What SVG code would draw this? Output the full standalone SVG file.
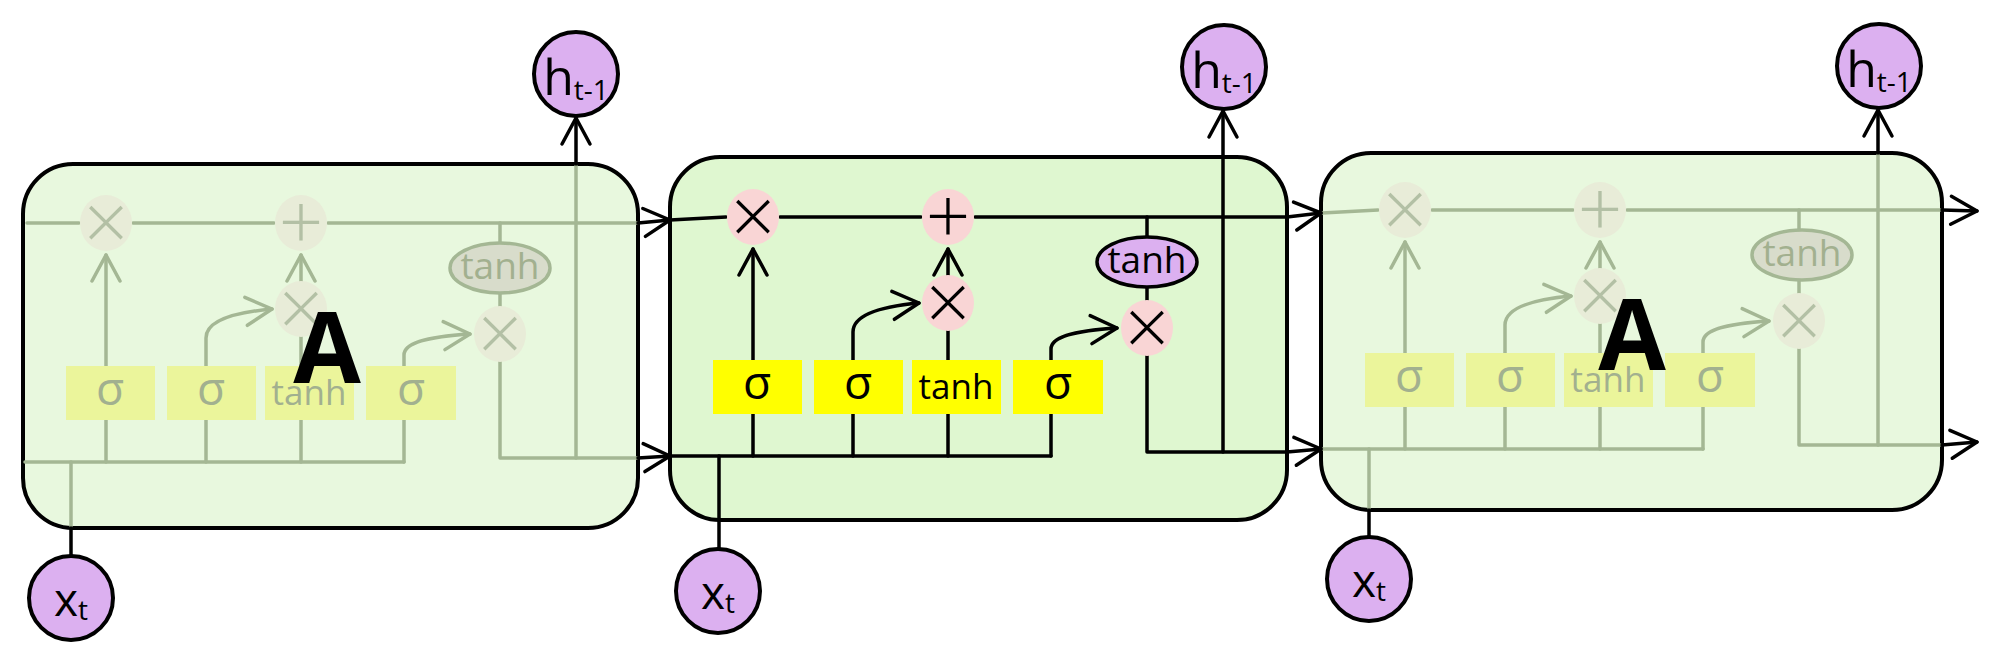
<svg xmlns="http://www.w3.org/2000/svg" width="2000" height="656" viewBox="0 0 2000 656">
<defs>
<style>
.box{stroke:#000;stroke-width:4}
.bon{fill:#dff7d0}
.boff{fill:#e8f8de}
.ln{fill:none;stroke:#000;stroke-width:3.5;stroke-linecap:round;stroke-linejoin:round}
.off .ln{stroke:#a4b794}
.op{fill:#f9d5d5}
.off .op{fill:#e8ecd8}
.opt{font-family:"Open Sans","DejaVu Sans",sans-serif;font-weight:300;font-size:78px;fill:#000;text-anchor:middle}
.off .opt{fill:#b3c0a5}
.gate{fill:#ffff00}
.off .gate{fill:#ebf59b}
.gt{font-family:"Open Sans","DejaVu Sans",sans-serif;fill:#000;text-anchor:middle}
.off .gt{fill:#a2b08f}
.th{fill:#dcb0f0;stroke:#000;stroke-width:3.5}
.off .th{fill:#d8dccb;stroke:#a4b794}
.io{fill:#dcb0f0;stroke:#000;stroke-width:4}
.iot{font-family:"Open Sans","DejaVu Sans",sans-serif;fill:#000;text-anchor:middle}
.big{font-family:"Open Sans","Liberation Sans",sans-serif;font-weight:700;font-size:98px;fill:#000;text-anchor:middle}
</style>
<marker id="ab" markerUnits="userSpaceOnUse" viewBox="0 0 32 34" markerWidth="32" markerHeight="34" refX="29" refY="17" orient="auto"><path d="M3,3 L29,17 L3,31" fill="none" stroke="#000" stroke-width="3.5" stroke-linecap="round" stroke-linejoin="round"/></marker>
<marker id="af" markerUnits="userSpaceOnUse" viewBox="0 0 32 34" markerWidth="32" markerHeight="34" refX="29" refY="17" orient="auto"><path d="M3,3 L29,17 L3,31" fill="none" stroke="#a4b794" stroke-width="3.5" stroke-linecap="round" stroke-linejoin="round"/></marker>
</defs>

<!-- cell boxes -->
<g id="cell1"><rect class="box boff" x="23" y="164" width="615" height="364" rx="50" ry="50"/></g>
<g id="cell2"><rect class="box bon" x="670" y="157" width="617" height="363" rx="50" ry="50"/></g>
<g id="cell3"><rect class="box boff" x="1321" y="153" width="621" height="357" rx="50" ry="50"/></g>

<!-- connectors -->
<g id="connectors">
  <g id="conn-cell1" class="off" transform="translate(23,163)">
    <path class="ln" d="M4,60 H56"/>
    <path class="ln" d="M110,60 H251"/>
    <path class="ln" d="M305,60 H614"/>
    <path class="ln" d="M477,60 V80"/>
    <path class="ln" d="M477,130 V144"/>
    <path class="ln" d="M477,198 V295 H614"/>
    <path class="ln" d="M553,295 V3"/>
    <path class="ln" d="M83,203 V92" marker-end="url(#af)"/>
    <path class="ln" d="M278,119 V92" marker-end="url(#af)"/>
    <path class="ln" d="M278,203 V173"/>
    <path class="ln" d="M183,203 V175 C183,160 205,150 249,146" marker-end="url(#af)"/>
    <path class="ln" d="M381,203 V192 C381,181 400,174 447,171" marker-end="url(#af)"/>
    <path class="ln" d="M83,257 V299 M183,257 V299 M278,257 V299 M381,257 V299"/>
    <path class="ln" d="M2,299 H381"/>
    <path class="ln" d="M48,299 V363"/>
  </g>
  <g id="conn-cell2" transform="translate(670,157)">
    <path class="ln" d="M0,63 L56,60"/>
    <path class="ln" d="M110,60 H251"/>
    <path class="ln" d="M305,60 H617"/>
    <path class="ln" d="M477,60 V80"/>
    <path class="ln" d="M477,130 V144"/>
    <path class="ln" d="M477,198 V295 H617"/>
    <path class="ln" d="M553,295 V-46" marker-end="url(#ab)"/>
    <path class="ln" d="M83,203 V92" marker-end="url(#ab)"/>
    <path class="ln" d="M278,119 V92" marker-end="url(#ab)"/>
    <path class="ln" d="M278,203 V173"/>
    <path class="ln" d="M183,203 V175 C183,160 205,150 249,146" marker-end="url(#ab)"/>
    <path class="ln" d="M381,203 V192 C381,181 400,174 447,171" marker-end="url(#ab)"/>
    <path class="ln" d="M83,257 V299 M183,257 V299 M278,257 V299 M381,257 V299"/>
    <path class="ln" d="M0,299 H381"/>
    <path class="ln" d="M49,299 V392"/>
  </g>
  <g id="conn-cell3" class="off" transform="translate(1322,150)">
    <path class="ln" d="M0,63 L56,60"/>
    <path class="ln" d="M110,60 H251"/>
    <path class="ln" d="M305,60 H618"/>
    <path class="ln" d="M477,60 V80"/>
    <path class="ln" d="M477,130 V144"/>
    <path class="ln" d="M477,198 V295 H618"/>
    <path class="ln" d="M556,295 V5"/>
    <path class="ln" d="M83,203 V92" marker-end="url(#af)"/>
    <path class="ln" d="M278,119 V92" marker-end="url(#af)"/>
    <path class="ln" d="M278,203 V173"/>
    <path class="ln" d="M183,203 V175 C183,160 205,150 249,146" marker-end="url(#af)"/>
    <path class="ln" d="M381,203 V192 C381,181 400,174 447,171" marker-end="url(#af)"/>
    <path class="ln" d="M83,257 V299 M183,257 V299 M278,257 V299 M381,257 V299"/>
    <path class="ln" d="M1,299 H381"/>
    <path class="ln" d="M47,299 V358"/>
  </g>
  <g id="conn-outside">
    <path class="ln" d="M638,223 L670,220" marker-end="url(#ab)"/>
    <path class="ln" d="M638,458 L670,456" marker-end="url(#ab)"/>
    <path class="ln" d="M576,164 V118" marker-end="url(#ab)"/>
    <path class="ln" d="M71,528 V556"/>
    <path class="ln" d="M1287,217 L1321,213" marker-end="url(#ab)"/>
    <path class="ln" d="M1287,452 L1321,449" marker-end="url(#ab)"/>
    <path class="ln" d="M1942,210 L1977,211" marker-end="url(#ab)"/>
    <path class="ln" d="M1942,445 L1977,442" marker-end="url(#ab)"/>
    <path class="ln" d="M1878,153 V110" marker-end="url(#ab)"/>
    <path class="ln" d="M1369,510 V537"/>
  </g>
</g>

<!-- cell 1 nodes (faded) -->
<g id="nodes-cell1" class="off" transform="translate(23,163)">
  <g id="c1-mul-forget"><ellipse class="op" cx="83" cy="60" rx="26" ry="28"/><text class="opt" x="83" y="87">×</text></g>
  <g id="c1-add"><ellipse class="op" cx="278" cy="60" rx="26" ry="28"/><text class="opt" x="278" y="87">+</text></g>
  <g id="c1-mul-input"><ellipse class="op" cx="278" cy="146" rx="26" ry="28"/><text class="opt" x="278" y="173">×</text></g>
  <g id="c1-mul-output"><ellipse class="op" cx="477" cy="171" rx="26" ry="28"/><text class="opt" x="477" y="198">×</text></g>
  <g id="c1-tanh-out"><ellipse class="th" cx="477" cy="105" rx="50" ry="25"/><text class="gt" x="477" y="116" font-size="37">tanh</text></g>
  <g id="c1-gate-f"><rect class="gate" x="43" y="203" width="89" height="54"/><text class="gt" x="87" y="242" font-size="46">σ</text></g>
  <g id="c1-gate-i"><rect class="gate" x="144" y="203" width="89" height="54"/><text class="gt" x="188" y="242" font-size="46">σ</text></g>
  <g id="c1-gate-c"><rect class="gate" x="242" y="203" width="89" height="54"/><text class="gt" x="286" y="242" font-size="35">tanh</text></g>
  <g id="c1-gate-o"><rect class="gate" x="343" y="203" width="90" height="54"/><text class="gt" x="388" y="242" font-size="46">σ</text></g>
</g>

<!-- cell 2 nodes -->
<g id="nodes-cell2" transform="translate(670,157)">
  <g id="c2-mul-forget"><ellipse class="op" cx="83" cy="60" rx="26" ry="28"/><text class="opt" x="83" y="87">×</text></g>
  <g id="c2-add"><ellipse class="op" cx="278" cy="60" rx="26" ry="28"/><text class="opt" x="278" y="87">+</text></g>
  <g id="c2-mul-input"><ellipse class="op" cx="278" cy="146" rx="26" ry="28"/><text class="opt" x="278" y="173">×</text></g>
  <g id="c2-mul-output"><ellipse class="op" cx="477" cy="171" rx="26" ry="28"/><text class="opt" x="477" y="198">×</text></g>
  <g id="c2-tanh-out"><ellipse class="th" cx="477" cy="105" rx="50" ry="25"/><text class="gt" x="477" y="116" font-size="37">tanh</text></g>
  <g id="c2-gate-f"><rect class="gate" x="43" y="203" width="89" height="54"/><text class="gt" x="87" y="242" font-size="46">σ</text></g>
  <g id="c2-gate-i"><rect class="gate" x="144" y="203" width="89" height="54"/><text class="gt" x="188" y="242" font-size="46">σ</text></g>
  <g id="c2-gate-c"><rect class="gate" x="242" y="203" width="89" height="54"/><text class="gt" x="286" y="242" font-size="35">tanh</text></g>
  <g id="c2-gate-o"><rect class="gate" x="343" y="203" width="90" height="54"/><text class="gt" x="388" y="242" font-size="46">σ</text></g>
</g>

<!-- cell 3 nodes (faded) -->
<g id="nodes-cell3" class="off" transform="translate(1322,150)">
  <g id="c3-mul-forget"><ellipse class="op" cx="83" cy="60" rx="26" ry="28"/><text class="opt" x="83" y="87">×</text></g>
  <g id="c3-add"><ellipse class="op" cx="278" cy="60" rx="26" ry="28"/><text class="opt" x="278" y="87">+</text></g>
  <g id="c3-mul-input"><ellipse class="op" cx="278" cy="146" rx="26" ry="28"/><text class="opt" x="278" y="173">×</text></g>
  <g id="c3-mul-output"><ellipse class="op" cx="477" cy="171" rx="26" ry="28"/><text class="opt" x="477" y="198">×</text></g>
  <g id="c3-tanh-out"><ellipse class="th" cx="480" cy="105" rx="50" ry="25"/><text class="gt" x="480" y="116" font-size="37">tanh</text></g>
  <g id="c3-gate-f"><rect class="gate" x="43" y="203" width="89" height="54"/><text class="gt" x="87" y="242" font-size="46">σ</text></g>
  <g id="c3-gate-i"><rect class="gate" x="144" y="203" width="89" height="54"/><text class="gt" x="188" y="242" font-size="46">σ</text></g>
  <g id="c3-gate-c"><rect class="gate" x="242" y="203" width="89" height="54"/><text class="gt" x="286" y="242" font-size="35">tanh</text></g>
  <g id="c3-gate-o"><rect class="gate" x="343" y="203" width="90" height="54"/><text class="gt" x="388" y="242" font-size="46">σ</text></g>
</g>

<!-- inputs / outputs -->
<g id="h1"><circle class="io" cx="576" cy="74" r="42"/><text class="iot" x="576" y="95" font-size="50">h<tspan font-size="28" dy="5">t-1</tspan></text></g>
<g id="h2"><circle class="io" cx="1224" cy="67" r="42"/><text class="iot" x="1224" y="88" font-size="50">h<tspan font-size="28" dy="5">t-1</tspan></text></g>
<g id="h3"><circle class="io" cx="1879" cy="66" r="42"/><text class="iot" x="1879" y="87" font-size="50">h<tspan font-size="28" dy="5">t-1</tspan></text></g>
<g id="x1"><circle class="io" cx="71" cy="598" r="42"/><text class="iot" x="71" y="616" font-size="46">x<tspan font-size="28" dy="4">t</tspan></text></g>
<g id="x2"><circle class="io" cx="718" cy="591" r="42"/><text class="iot" x="718" y="609" font-size="46">x<tspan font-size="28" dy="4">t</tspan></text></g>
<g id="x3"><circle class="io" cx="1369" cy="579" r="42"/><text class="iot" x="1369" y="597" font-size="46">x<tspan font-size="28" dy="4">t</tspan></text></g>

<!-- big labels -->
<g id="label-cell1"><text class="big" x="327" y="383">A</text></g>
<g id="label-cell3"><text class="big" x="1632" y="370">A</text></g>
</svg>
